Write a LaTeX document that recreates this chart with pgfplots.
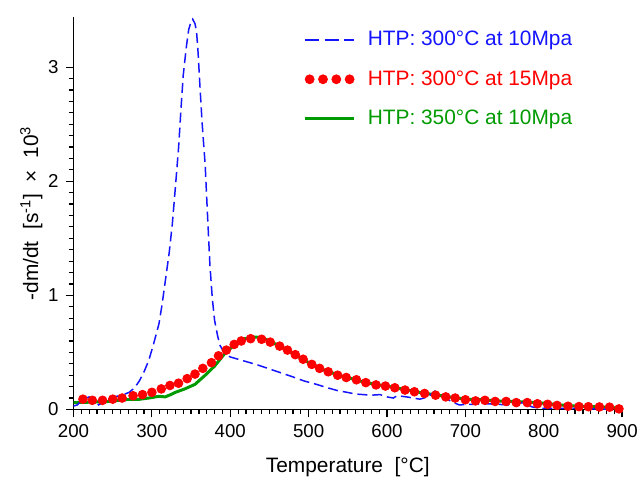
\documentclass[border=0pt]{standalone}
\usepackage{fontspec}
\setmainfont{Liberation Sans}
\usepackage{pgfplots}
\pgfplotsset{compat=1.18}
\definecolor{cblue}{RGB}{20,20,255}
\definecolor{cred}{RGB}{255,0,0}
\definecolor{cgreen}{RGB}{0,155,0}
\begin{document}
\begin{tikzpicture}
\begin{axis}[
  scale only axis, width=276pt, height=197.5pt,
  xmin=200, xmax=900, ymin=0, ymax=3.44,
  axis lines=left, axis line style={-, line width=0.8pt, black},
  xtick={200,300,...,900}, ytick={0,1,2,3},
  minor x tick num=9, minor y tick num=9,
  tick align=outside,
  major tick length=4pt, minor tick length=2.5pt,
  every tick/.style={black, line width=0.6pt},
  tick label style={font=\fontsize{9.4}{11}\selectfont},
  /pgf/number format/assume math mode=true,
  xlabel={Temperature\ \ [°C]},
  ylabel={-dm/dt\ \ [s\textsuperscript{-1}]\ \ ×\ \ 10\textsuperscript{3}},
  label style={font=\fontsize{10.5}{12}\selectfont},
  xlabel style={yshift=-3pt},
  ylabel style={yshift=-4pt},
  clip=false,
  legend style={draw=none, fill=none, at={(0.418,0.975)}, anchor=north west,
    font=\fontsize{10.5}{12}\selectfont, row sep=7pt, inner sep=0pt,
    /tikz/every odd column/.append style={column sep=4pt}},
  legend cell align=left,
]
\addplot[cgreen, line width=1.5pt, forget plot] coordinates {
(200,0.06) (224,0.064) (245,0.07) (267,0.087) (283,0.088) (296,0.10) (309,0.115) (317,0.11)
(324,0.13) (330,0.15) (342,0.18) (355,0.22) (368,0.30) (380,0.38) (393,0.49) (406,0.57)
(418,0.62) (430,0.635) (440,0.63) (450,0.60) (460,0.565) (470,0.53) (480,0.49) (490,0.45)
(500,0.41) (510,0.375) (520,0.345) (530,0.32) (540,0.295) (550,0.28) (560,0.26) (570,0.24)
(585,0.22) (600,0.205) (615,0.185) (630,0.165) (645,0.145) (660,0.13) (675,0.115) (690,0.10)
(700,0.09) (720,0.085) (740,0.075) (760,0.07) (780,0.065) (800,0.055) (820,0.04) (840,0.03)
(860,0.025) (880,0.02) (900,0.01)
};
\addplot[cblue, line width=0.75pt, dash pattern=on 5pt off 2.5pt, forget plot] coordinates {
(200,0.03) (205,0.04) (210,0.08) (220,0.11) (226,0.08) (232,0.04) (240,0.07) (250,0.11)
(260,0.12) (271,0.15) (278,0.19) (284,0.25) (290,0.33) (296,0.43) (302,0.57) (309,0.75)
(313,0.92) (317,1.12) (322,1.37) (326,1.62) (330,1.95) (334,2.29) (337,2.62) (340,2.93)
(344,3.18) (347,3.33) (350,3.40) (352,3.42) (355,3.38) (357,3.31) (359,3.12) (361,2.87)
(364,2.52) (368,2.14) (371,1.70) (374,1.27) (377,0.98) (380,0.78) (384,0.64) (387,0.56)
(393,0.49) (400,0.46) (410,0.44) (420,0.42) (435,0.39) (450,0.355) (465,0.32) (480,0.285)
(494,0.25) (510,0.22) (524,0.19) (537,0.165) (549,0.15) (560,0.135) (570,0.13) (580,0.125)
(591,0.13) (600,0.11) (608,0.10) (613,0.12) (625,0.11) (642,0.09) (652,0.11) (661,0.16)
(667,0.13) (672,0.11) (682,0.07) (692,0.04) (710,0.045) (727,0.05) (740,0.045) (756,0.04)
(765,0.05) (773,0.06) (780,0.04) (786,0.02) (800,0.01) (830,0.01) (860,0.005) (900,0.0)
};
\addplot[only marks, mark=*, mark size=2.2pt, cred, forget plot] coordinates {
(212,0.09) (224,0.08) (237,0.08) (250,0.09) (262,0.10) (276,0.12) (288,0.13) (300,0.15)
(312,0.18) (323,0.21) (334,0.23) (345,0.27) (355,0.31) (365,0.36) (376,0.41) (385,0.47)
(395,0.52) (405,0.57) (414,0.60) (426,0.62) (440,0.615) (451,0.59) (463,0.555) (473,0.52)
(483,0.48) (493,0.44) (504,0.395) (514,0.36) (525,0.33) (537,0.30) (548,0.28) (561,0.26)
(573,0.235) (586,0.215) (598,0.205) (610,0.19) (623,0.17) (635,0.155) (648,0.14) (662,0.125)
(675,0.11) (687,0.10) (700,0.085) (713,0.075) (725,0.08) (738,0.07) (752,0.07) (765,0.06)
(779,0.06) (792,0.05) (805,0.045) (817,0.035) (831,0.028) (845,0.025) (857,0.024) (871,0.022)
(884,0.02) (896,0.005)
};
\addlegendimage{legend image code/.code={\draw[cblue, line width=0.8pt, dash pattern=on 7pt off 3pt] (0pt,0pt) -- (25pt,0pt);}}
\addlegendentry{\textcolor{cblue}{HTP: 300°C at 10Mpa}}
\addlegendimage{legend image code/.code={\fill[cred] (2.5pt,0pt) circle (2.25pt) (9.2pt,0pt) circle (2.25pt) (15.9pt,0pt) circle (2.25pt) (22.6pt,0pt) circle (2.25pt);}}
\addlegendentry{\textcolor{cred}{HTP: 300°C at 15Mpa}}
\addlegendimage{legend image code/.code={\draw[cgreen, line width=1.5pt] (0pt,0pt) -- (25pt,0pt);}}
\addlegendentry{\textcolor{cgreen}{HTP: 350°C at 10Mpa}}
\end{axis}
\pgfresetboundingbox
\path[use as bounding box] (-37pt,-33.5pt) rectangle (284pt,206pt);
\end{tikzpicture}
\end{document}
